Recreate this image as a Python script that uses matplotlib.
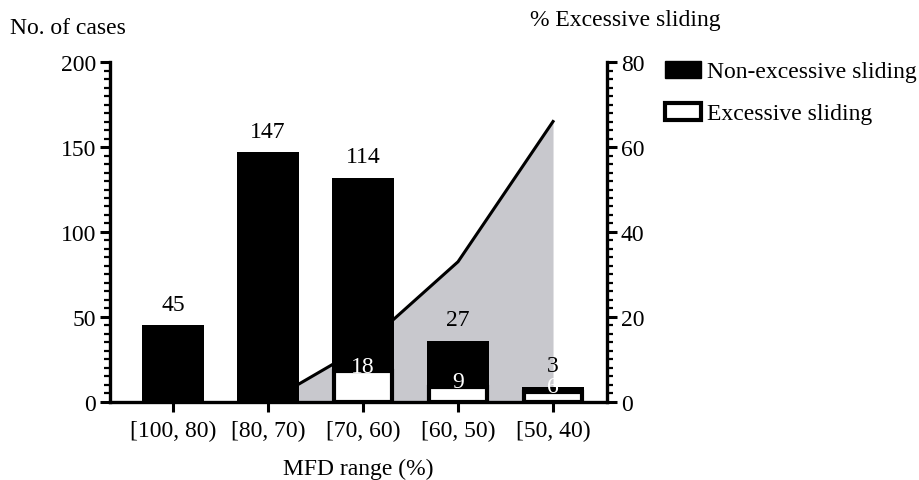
import numpy as np
import matplotlib
matplotlib.use("Agg")
import matplotlib.pyplot as plt
from matplotlib.patches import Patch
from matplotlib.ticker import MultipleLocator

plt.rcParams["font.family"] = ["Liberation Serif", "DejaVu Serif"]
plt.rcParams["font.size"] = 17

# data
mfd_ranges = ["[100, 80)", "[80, 70)", "[70, 60)", "[60, 50)", "[50, 40)"]
non_excessive = [45, 147, 114, 27, 3]
excessive = [0, 0, 18, 9, 6]
pct_ranges = ["[80, 70)", "[70, 60)", "[60, 50)", "[50, 40)"]
pct_excessive = [0, 13, 33, 66]

x = np.arange(len(mfd_ranges))
x_pct = np.array([mfd_ranges.index(r) for r in pct_ranges])
bar_w = 0.65

fig = plt.figure(figsize=(9.19, 4.81), dpi=100)
ax = fig.add_axes([0.1197, 0.1622, 0.5408, 0.7068])
ax2 = ax.twinx()

# percentage area sits behind the bars
ax2.fill_between(x_pct, 0, pct_excessive, color="#c8c8cd", lw=0)
ax2.plot(x_pct, pct_excessive, color="black", lw=2.2)
ax2.set_ylim(0, 80)
ax.set_zorder(ax2.get_zorder() + 1)
ax.patch.set_visible(False)

exc = np.array(excessive)
non = np.array(non_excessive)
has_exc = exc > 0
# white bars are a bit narrower so their thick edge stays inside the black bar
ax.bar(x[has_exc], exc[has_exc], width=bar_w - 0.045, color="white",
       edgecolor="black", linewidth=3, zorder=2)
ax.bar(x, non, width=bar_w, bottom=exc, color="black", zorder=3)

for xi, n, e in zip(x, non, exc):
    ax.annotate(str(n), (xi, n + e), xytext=(0, 15), textcoords="offset points",
                ha="center", va="center", color="black", zorder=5)
    if e > 0:
        ax.annotate(str(e), (xi, e), xytext=(0, -4), textcoords="offset points",
                    ha="center", va="bottom", color="white", zorder=5)

ax.set_xlim(-0.663, 4.568)
ax.set_ylim(0, 200)
ax.set_xticks(x)
ax.set_xticklabels(mfd_ranges)
ax.yaxis.set_major_locator(MultipleLocator(50))
ax.yaxis.set_minor_locator(MultipleLocator(5))
ax2.yaxis.set_major_locator(MultipleLocator(20))
ax2.yaxis.set_minor_locator(MultipleLocator(2))

for a in (ax, ax2):
    a.spines["top"].set_visible(False)
    a.tick_params(which="major", length=7, width=2.2, direction="out", pad=3)
    a.tick_params(which="minor", length=4, width=1.6, direction="out")
ax.spines["right"].set_visible(False)
ax2.spines["left"].set_visible(False)
ax2.spines["bottom"].set_visible(False)
ax.spines["left"].set_linewidth(2.4)
ax.spines["bottom"].set_linewidth(2.4)
ax2.spines["right"].set_linewidth(2.4)
ax.tick_params(axis="x", which="minor", length=0)
ax.tick_params(axis="x", which="major", pad=6)

ax.set_xlabel("MFD range (%)", labelpad=12)
fig.text(0.011, 0.94, "No. of cases", ha="left", va="center")
fig.text(0.577, 0.958, "% Excessive sliding", ha="left", va="center")

handles = [Patch(facecolor="black", edgecolor="black"),
           Patch(facecolor="white", edgecolor="black", linewidth=3)]
fig.legend(handles, ["Non-excessive sliding", "Excessive sliding"],
           loc="upper left", bbox_to_anchor=(0.724, 0.872), frameon=False,
           handlelength=1.5, handleheight=0.75, handletextpad=0.25,
           labelspacing=0.85, borderaxespad=0, borderpad=0)

fig.savefig("out.png", dpi=100)
